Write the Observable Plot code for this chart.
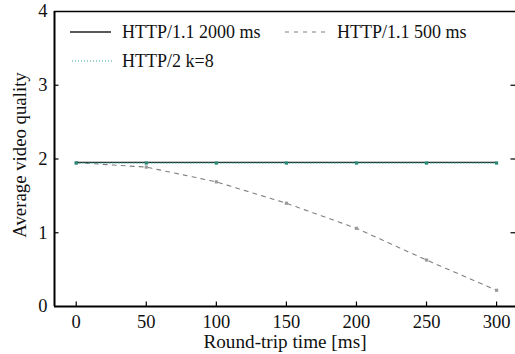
<!DOCTYPE html>
<html>
<head>
<meta charset="utf-8">
<script src="https://cdn.jsdelivr.net/npm/d3@7"></script>
<script src="https://cdn.jsdelivr.net/npm/@observablehq/plot@0.6"></script>
<style>
  html, body { margin: 0; padding: 0; background: #fff; }
  #wrap { position: relative; width: 515px; height: 354px; }
  #legend { position: absolute; left: 0; top: 0; pointer-events: none; }
  svg text { font-family: "Liberation Serif", "Tinos", "Times New Roman", "DejaVu Serif", serif !important; }
</style>
</head>
<body>
<div id="wrap"></div>
<script>
// ---- data ----
const rtt = [0, 50, 100, 150, 200, 250, 300];
const http11_2000 = [1.955, 1.955, 1.955, 1.955, 1.955, 1.955, 1.955];
const http11_500 = [1.95, 1.89, 1.69, 1.40, 1.06, 0.63, 0.22];
const http2_k8 = [1.945, 1.945, 1.945, 1.945, 1.945, 1.945, 1.945];
const xTicks = [0, 50, 100, 150, 200, 250, 300];
const yTicks = [0, 1, 2, 3, 4];
const seriesNames = ["HTTP/1.1 2000 ms", "HTTP/1.1 500 ms", "HTTP/2 k=8"];

const W = 515, H = 354;
const mL = 54, mR = 0, mT = 11, mB = 48;
const xDom = [-15.5, 313.5];
const yDom = [0, 4];

const rows = (vals, name) => rtt.map((x, i) => ({x, y: vals[i], s: name}));
const d2000 = rows(http11_2000, seriesNames[0]);
const d500 = rows(http11_500, seriesNames[1]);
const dk8 = rows(http2_k8, seriesNames[2]);

// tick lengths expressed in data units (~4.5px)
const pxPerX = (W - mL - mR) / (xDom[1] - xDom[0]);
const pxPerY = (H - mT - mB) / (yDom[1] - yDom[0]);
const tx = 4.5 / pxPerX, ty = 4.5 / pxPerY;
const inner = [1, 2, 3];

const font = "'Liberation Serif', 'Tinos', 'Times New Roman', 'DejaVu Serif', serif";

const chart = Plot.plot({
  width: W, height: H,
  marginLeft: mL, marginRight: mR, marginTop: mT, marginBottom: mB,
  style: {fontFamily: font, fontSize: "18px", background: "white", overflow: "visible"},
  x: {domain: xDom},
  y: {domain: yDom},
  marks: [
    Plot.axisX({ticks: xTicks, tickFormat: "d", tickSize: 0, tickPadding: 8, label: null, fontSize: 18.5, fill: "#111"}),
    Plot.axisY({ticks: yTicks, tickFormat: "d", tickSize: 0, tickPadding: 7, label: null, fontSize: 18.5, fill: "#111"}),
    Plot.text(["Round-trip time [ms]"], {frameAnchor: "bottom", lineAnchor: "middle", textAnchor: "middle", dy: 35, fontSize: 19.2, fill: "#111"}),
    Plot.text(["Average video quality"], {frameAnchor: "left", lineAnchor: "middle", textAnchor: "middle", rotate: -90, dx: -35, dy: -4, fontSize: 18.8, fill: "#111"}),
    // inward ticks
    Plot.ruleX(xTicks, {y1: 0, y2: ty, stroke: "#000", strokeWidth: 1.2}),
    Plot.ruleY(inner, {x1: xDom[0], x2: xDom[0] + tx, stroke: "#000", strokeWidth: 1.2}),
    Plot.ruleY(inner, {x1: xDom[1] - tx, x2: xDom[1], stroke: "#000", strokeWidth: 1.2}),
    // frame
    Plot.ruleY([yDom[1]], {stroke: "#000", strokeWidth: 1.3}),
    Plot.ruleX([xDom[0]], {stroke: "#000", strokeWidth: 2}),
    Plot.ruleY([yDom[0]], {stroke: "#000", strokeWidth: 2}),
    // series
    Plot.line(d500, {x: "x", y: "y", stroke: "#808080", strokeWidth: 1.1, strokeDasharray: "4,5"}),
    Plot.dot(d500, {x: "x", y: "y", symbol: "square", r: 1.8, fill: "#9a9a9a", stroke: "none"}),
    Plot.line(d2000, {x: "x", y: "y", stroke: "#222", strokeWidth: 1.3}),
    Plot.line(dk8, {x: "x", y: "y", stroke: "#3ba595", strokeWidth: 1.1, strokeDasharray: "1,2"}),
    Plot.dot(dk8, {x: "x", y: "y", symbol: "square", r: 1.8, fill: "#2a8a78", stroke: "none"})
  ]
});
document.getElementById("wrap").appendChild(chart);

// legend overlay
const leg = d3.select("#wrap").append("svg").attr("id", "legend")
  .attr("width", W).attr("height", 80);
const items = [
  {name: seriesNames[0], x1: 70, x2: 111, tx: 122, y: 32, stroke: "#222", dash: null, sw: 1.3},
  {name: seriesNames[1], x1: 285, x2: 327, tx: 337, y: 32, stroke: "#808080", dash: "4,5", sw: 1.1},
  {name: seriesNames[2], x1: 72, x2: 113, tx: 122, y: 61, stroke: "#3ba595", dash: "1,2", sw: 1.1}
];
const g = leg.selectAll("g").data(items).join("g");
g.append("line").attr("x1", d => d.x1).attr("x2", d => d.x2)
  .attr("y1", d => d.y).attr("y2", d => d.y)
  .attr("stroke", d => d.stroke).attr("stroke-width", d => d.sw)
  .attr("stroke-dasharray", d => d.dash);
g.append("text").attr("x", d => d.tx).attr("y", d => d.y).attr("dy", "0.35em")
  .attr("font-size", 18).attr("fill", "#111")
  .text(d => d.name);
</script>
</body>
</html>
